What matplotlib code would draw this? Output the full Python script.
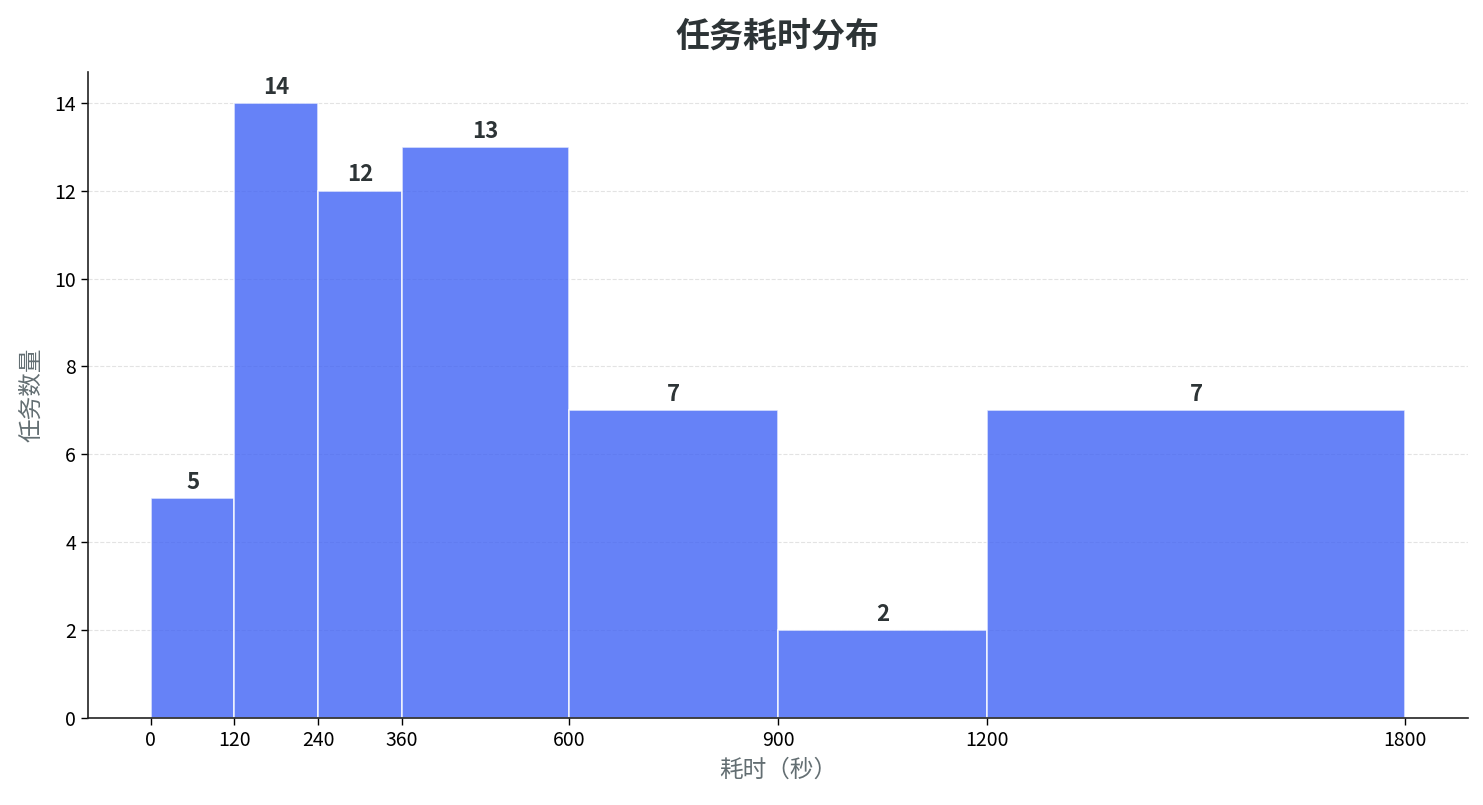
import numpy as np
import matplotlib
matplotlib.use('Agg')
import matplotlib.pyplot as plt

plt.rcParams['font.family'] = ['Noto Sans CJK SC', 'DejaVu Sans']

bin_edges = [0, 120, 240, 360, 600, 900, 1200, 1800]
counts = [5, 14, 12, 13, 7, 2, 7]

fig = plt.figure(figsize=(14.83, 8.05), dpi=100)
ax = fig.add_axes([0.0593, 0.108, 0.9306, 0.8026])

lefts = np.array(bin_edges[:-1])
widths = np.diff(bin_edges)
bars = ax.bar(lefts, counts, width=widths, align='edge',
              color='#4063f5', alpha=0.8, edgecolor='white', linewidth=1.2, zorder=2)

for b, c in zip(bars, counts):
    ax.annotate(str(c), (b.get_x() + b.get_width() / 2, b.get_height()),
                xytext=(0, 3), textcoords='offset points', ha='center', va='bottom',
                fontsize=16, fontweight='bold', color='#2d3436')

ax.set_xticks(bin_edges)
ax.set_xticklabels([str(e) for e in bin_edges])
ax.tick_params(axis='both', labelsize=14, length=5, width=1)
ax.grid(axis='y', linestyle='--', color='#dddddd', alpha=0.8, zorder=0)
ax.set_axisbelow(True)
for s in ['top', 'right']:
    ax.spines[s].set_visible(False)
for s in ['left', 'bottom']:
    ax.spines[s].set_linewidth(1.2)
    ax.spines[s].set_color('#222222')

ax.set_xlabel('耗时（秒）', fontsize=17, color='#636e72', labelpad=6)
ax.set_ylabel('任务数量', fontsize=17, color='#636e72', labelpad=8)
ax.set_title('任务耗时分布', fontsize=24.5, fontweight='bold', color='#2d3436', pad=18)

fig.savefig('out.png', dpi=100)
